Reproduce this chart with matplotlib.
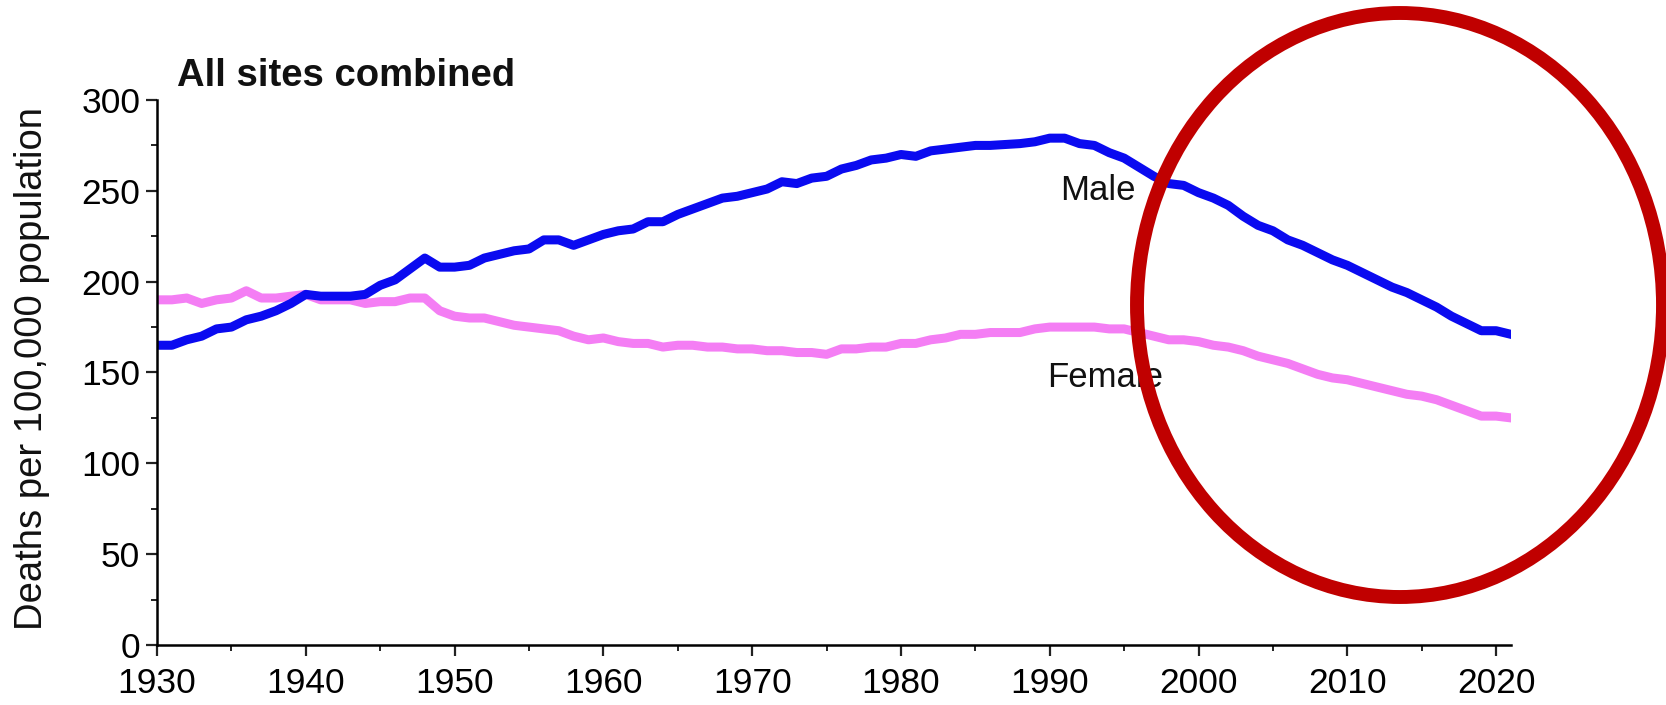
import matplotlib
matplotlib.use("Agg")
import matplotlib.pyplot as plt
from matplotlib.patches import Ellipse
from matplotlib.ticker import MultipleLocator

plt.rcParams['font.family'] = ['Liberation Sans', 'DejaVu Sans']

# data (deaths per 100,000)
years = list(range(1930, 2022))
male = [165, 165, 168, 170, 174, 175, 179, 181, 184, 188,
        193, 192, 192, 192, 193, 198, 201, 207, 213, 208,
        208, 209, 213, 215, 217, 218, 223, 223, 220, 223,
        226, 228, 229, 233, 233, 237, 240, 243, 246, 247,
        249, 251, 255, 254, 257, 258, 262, 264, 267, 268,
        270, 269, 272, 273, 274, 275, 275, 275.5, 276, 277,
        279, 279, 276, 275, 271, 268, 263, 258, 254, 253,
        249, 246, 242, 236, 231, 228, 223, 220, 216, 212,
        209, 205, 201, 197, 194, 190, 186, 181, 177, 173,
        173, 171]
female = [190, 190, 191, 188, 190, 191, 195, 191, 191, 192,
          193, 190, 190, 190, 188, 189, 189, 191, 191, 184,
          181, 180, 180, 178, 176, 175, 174, 173, 170, 168,
          169, 167, 166, 166, 164, 165, 165, 164, 164, 163,
          163, 162, 162, 161, 161, 160, 163, 163, 164, 164,
          166, 166, 168, 169, 171, 171, 172, 172, 172, 174,
          175, 175, 175, 175, 174, 174, 172, 170, 168, 168,
          167, 165, 164, 162, 159, 157, 155, 152, 149, 147,
          146, 144, 142, 140, 138, 137, 135, 132, 129, 126,
          126, 125]

W, H = 1666, 705
fig = plt.figure(figsize=(W / 100, H / 100), dpi=100)
ax = fig.add_axes([157 / W, 1 - 645 / H, (1511 - 157) / W, (645 - 100) / H])

ax.plot(years, female, color='#F47EF4', lw=6.5, solid_joinstyle='round')
ax.plot(years, male, color='#0A0AF0', lw=6.5, solid_joinstyle='round')

ax.set_xlim(1930, 2021)
ax.set_ylim(0, 300)
ax.spines['top'].set_visible(False)
ax.spines['right'].set_visible(False)
for s in ['left', 'bottom']:
    ax.spines[s].set_linewidth(1.8)

ax.xaxis.set_major_locator(MultipleLocator(10))
ax.xaxis.set_minor_locator(MultipleLocator(5))
ax.yaxis.set_major_locator(MultipleLocator(50))
ax.yaxis.set_minor_locator(MultipleLocator(25))
ax.tick_params(which='major', length=8, width=1.6, labelsize=25.5, pad=4, color='#222222')
ax.tick_params(which='minor', length=4.5, width=1.4, color='#222222')
ax.tick_params(axis='x', pad=8)

ax.text(1990.7, 250, 'Male', fontsize=25, va='center', ha='left', color='#111111')
ax.text(1989.8, 147.5, 'Female', fontsize=25, va='center', ha='left', color='#111111')

fig.text(177 / W, 1 - 76 / H, 'All sites combined', fontsize=27.5, fontweight='bold',
         ha='left', va='center', color='#111111')
fig.text(32 / W, 1 - 369 / H, 'Deaths per 100,000 population', fontsize=27.5,
         rotation=90, ha='center', va='center', color='#111111')

# red highlight circle
fig.add_artist(Ellipse((1400 / W, 1 - 305 / H), 526 / W, 584 / H,
                       transform=fig.transFigure, fill=False,
                       ec='#C00000', lw=10))

fig.savefig('out.png', dpi=100)
